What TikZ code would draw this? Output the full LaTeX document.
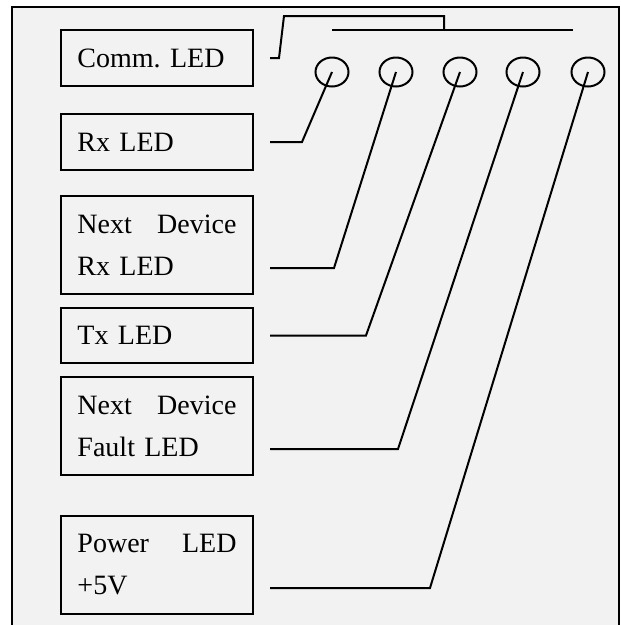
\documentclass[tikz,border=0pt]{standalone}
\usepackage{fontspec}
\setmainfont{Liberation Serif}
\usetikzlibrary{shapes.geometric}
\definecolor{panelgray}{HTML}{F2F2F2}
\frenchspacing
\begin{document}
\begin{tikzpicture}[x=1pt,y=-1pt,line width=2pt,
  ledbox/.style={draw,rectangle,anchor=north west,text width=159pt,
    inner xsep=16.5pt,inner ysep=0pt,align=left,
    font=\fontsize{28}{42}\selectfont},
  lamp/.style={draw,ellipse,minimum width=33pt,minimum height=29pt,inner sep=0pt}]
\useasboundingbox (0,0) rectangle (621,625);
% panel
\fill[white] (0,0) rectangle (621,625);
\fill[panelgray] (12,7) rectangle (619,625);
\draw (12,625) -- (12,7) -- (619,7) -- (619,625);
% label boxes
\node[ledbox,minimum height=56pt] (comm) at (60,29) {Comm. LED};
\node[ledbox,minimum height=56pt] (rx) at (60,113) {Rx LED};
\node[ledbox,minimum height=98pt] (nrx) at (60,195) {Next\hfill Device\\Rx LED};
\node[ledbox,minimum height=55pt] (tx) at (60,307) {Tx LED};
\node[ledbox,minimum height=98pt] (fault) at (60,376) {Next\hfill Device\\Fault LED};
\node[ledbox,minimum height=98pt] (power) at (60,515) {Power\hfill LED\\+5V};
% leds
\foreach \i/\x in {1/332,2/396,3/460,4/523,5/588}
  \node[lamp] (led\i) at (\x,72) {};
% comm bus
\coordinate (busL) at (332,30);
\coordinate (busR) at (573,30);
\coordinate (tap) at (444,30);
\draw (busL) -- (busR);
\draw ([xshift=16pt]comm.east) -- ++(9,0) -- (284,16) -| (tap);
% leads
\draw ([xshift=16pt]rx.east) -- ++(32,0) -- (led1.center);
\draw ([xshift=16pt,yshift=27pt]nrx.south east) -- ++(64,0) -- (led2.center);
\draw ([xshift=16pt]tx.east) -- ++(96,0) -- (led3.center);
\draw ([xshift=16pt,yshift=27pt]fault.south east) -- ++(128,0) -- (led4.center);
\draw ([xshift=16pt,yshift=27pt]power.south east) -- ++(160,0) -- (led5.center);
\end{tikzpicture}
\end{document}
